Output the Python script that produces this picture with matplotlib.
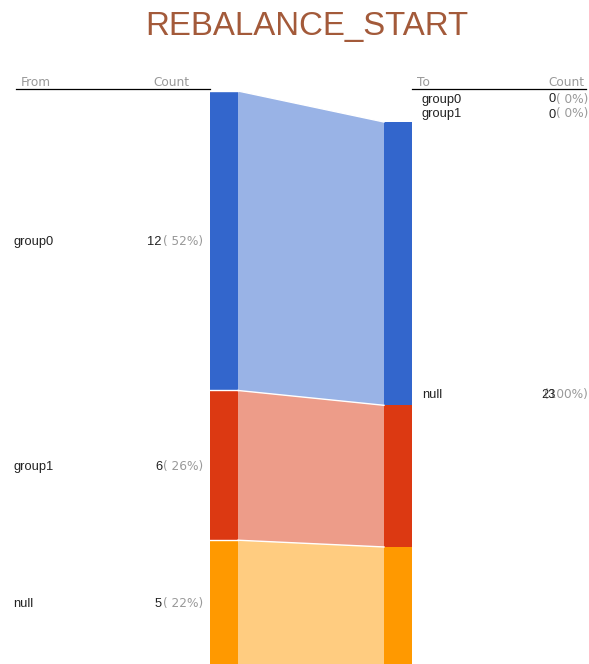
import matplotlib
matplotlib.use("Agg")
import matplotlib.pyplot as plt
from matplotlib.patches import Rectangle, Polygon

plt.rcParams['font.family'] = ['Liberation Sans', 'DejaVu Sans']

title = "REBALANCE_START"
sources = ["group0", "group1", "null"]
source_counts = [12, 6, 5]
targets = ["group0", "group1", "null"]
target_counts = [0, 0, 23]
# flows: (source, target, count)
flows = [("group0", "null", 12), ("group1", "null", 6), ("null", "null", 5)]
colors = {"group0": "#3366cc", "group1": "#dc3912", "null": "#ff9900"}
band_colors = {"group0": "#99b3e6", "group1": "#ed9c89", "null": "#ffcc80"}

W, H = 589, 664
fig = plt.figure(figsize=(W / 100, H / 100), dpi=100)
ax = fig.add_axes([0, 0, 1, 1])
ax.set_xlim(0, W)
ax.set_ylim(H, 0)
ax.axis("off")

# geometry (pixels)
lx0, lx1 = 210, 238
rx0, rx1 = 384, 412
bottom = 665
ltop, rtop = 91, 122
total = sum(source_counts)
lscale = (bottom - ltop) / total
rscale = (bottom - rtop) / sum(target_counts)

# left nodes
left_pos = {}
y = ltop
for name, c in zip(sources, source_counts):
    left_pos[name] = (y, y + c * lscale)
    y += c * lscale

# right node extents
right_node = {}
y = rtop
for name, c in zip(targets, target_counts):
    right_node[name] = (y, y + c * rscale)
    y += c * rscale

rcur = {k: v[0] for k, v in right_node.items()}
lcur = {k: v[0] for k, v in left_pos.items()}
for s, t, c in flows:
    ly0 = lcur[s]; ly1 = ly0 + c * lscale; lcur[s] = ly1
    ry0 = rcur[t]; ry1 = ry0 + c * rscale; rcur[t] = ry1
    ax.add_patch(Polygon([(lx1, ly0), (rx0, ry0), (rx0, ry1), (lx1, ly1)],
                         closed=True, facecolor=band_colors[s], edgecolor="none"))
    ax.add_patch(Rectangle((rx0, ry0), rx1 - rx0, ry1 - ry0,
                           facecolor=colors[s], edgecolor="none"))
    # thin white separator along band tops
    ax.plot([lx1, rx0], [ly0, ry0], color="white", lw=1.0)

for name in sources:
    y0, y1 = left_pos[name]
    ax.add_patch(Rectangle((lx0, y0), lx1 - lx0, y1 - y0,
                           facecolor=colors[name], edgecolor="none"))
    ax.plot([lx0, lx1], [y0, y0], color="white", lw=1.0)

# title
ax.text(306.5, 35, title, ha="center", va="baseline", fontsize=23.8, color="#a35a3a")

# headers
hdr = dict(fontsize=8.7, color="#999999", va="baseline", family="DejaVu Sans")
ax.text(21, 86, "From", ha="left", **hdr)
ax.text(189, 86, "Count", ha="right", **hdr)
ax.text(417, 86, "To", ha="left", **hdr)
ax.text(584, 86, "Count", ha="right", **hdr)
ax.plot([16, 210], [88.5, 88.5], color="black", lw=0.9)
ax.plot([412, 586], [88.5, 88.5], color="black", lw=0.9)


def pct_text(c, tot):
    p = round(100 * c / tot)
    return f"({p}%)" if p >= 100 else f"( {p}%)"


lab = dict(fontsize=9.3, va="baseline")
pct = dict(fontsize=8.7, va="baseline", family="DejaVu Sans", color="#999999")
for name, c in zip(sources, source_counts):
    y0, y1 = left_pos[name]
    yb = (y0 + y1) / 2 + 4.5
    ax.text(13, yb, name, ha="left", color="#222222", **lab)
    ax.text(203, yb, pct_text(c, total), ha="right", **pct)
    ax.text(162, yb, str(c), ha="right", color="#222222", **lab)

tot_r = sum(target_counts)
small_y = [98, 113]
k = 0
for name, c in zip(targets, target_counts):
    if c == 0:
        ym = small_y[k]; k += 1
    else:
        y0, y1 = right_node[name]
        ym = (y0 + y1) / 2
    yb = ym + 4.5
    ax.text(422, yb, name, ha="left", color="#222222", **lab)
    ax.text(588, yb, pct_text(c, tot_r), ha="right", **pct)
    ax.text(556, yb, str(c), ha="right", color="#222222", **lab)

fig.savefig("out.png", dpi=100)
